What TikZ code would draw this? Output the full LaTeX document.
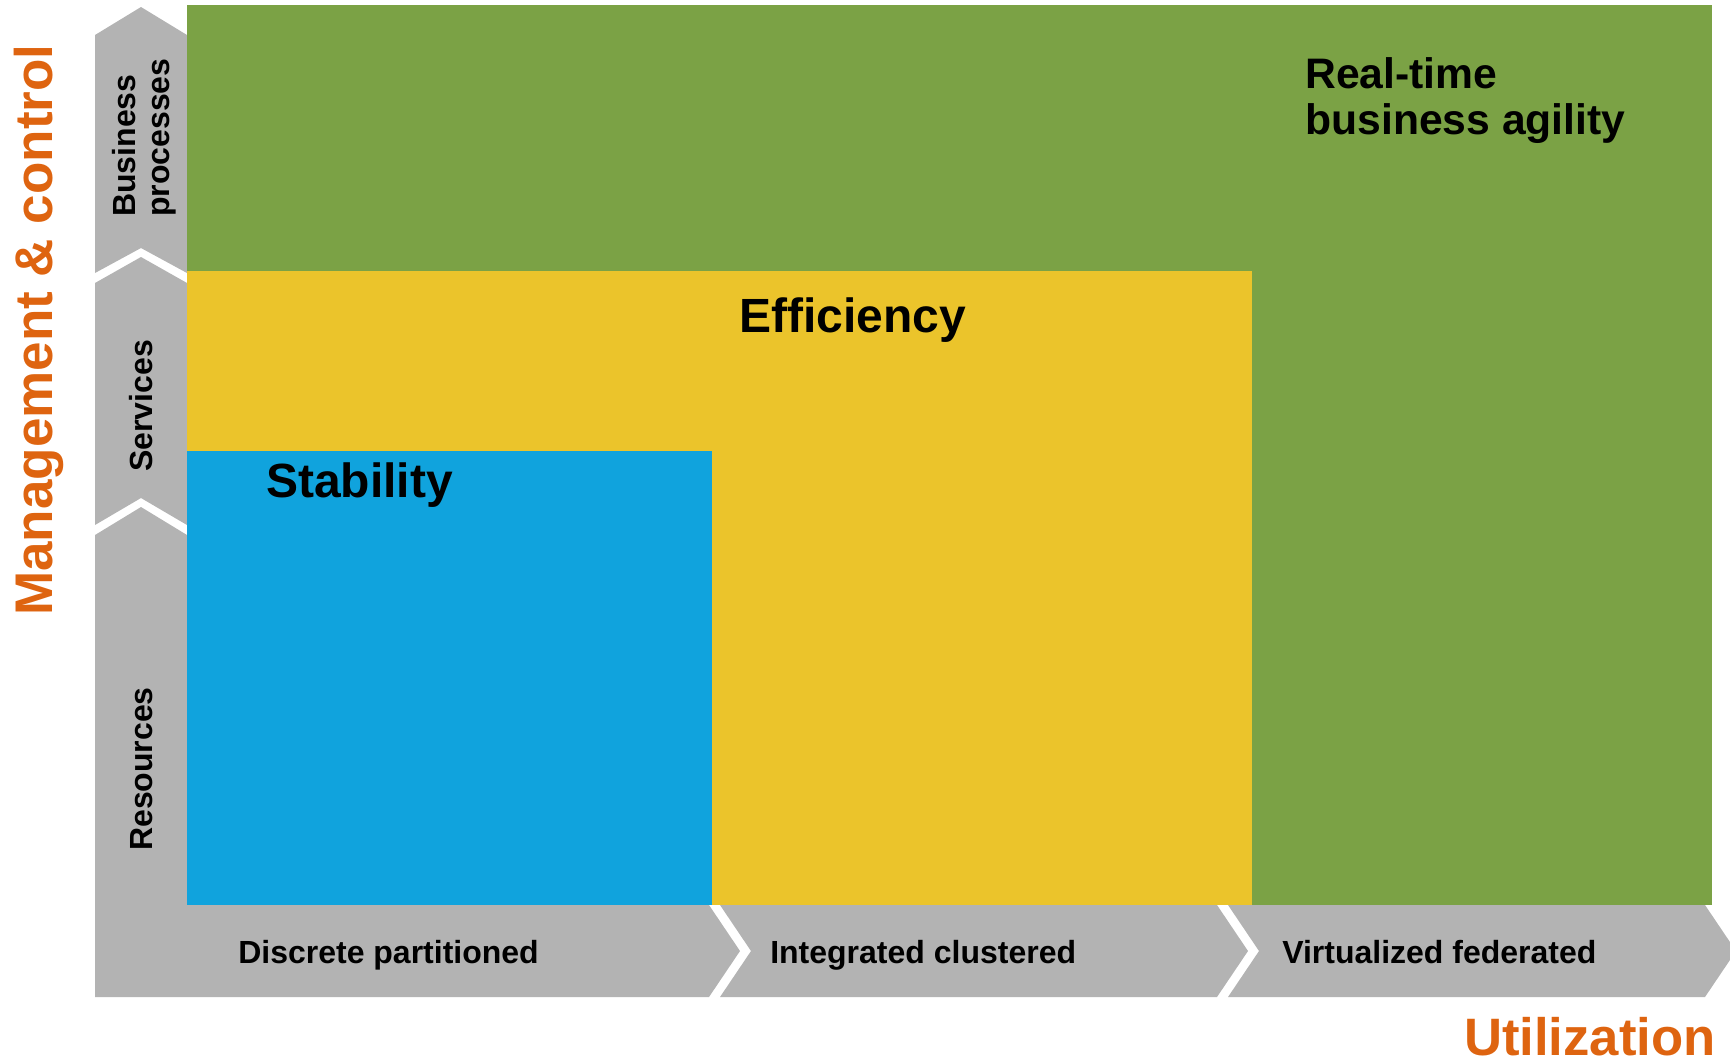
\documentclass[tikz,border=0pt]{standalone}
\usepackage{fontspec}
\setmainfont{Liberation Sans}
\definecolor{agilgreen}{RGB}{123,162,69}
\definecolor{effyellow}{RGB}{235,196,43}
\definecolor{stabblue}{RGB}{16,163,221}
\definecolor{lanegray}{RGB}{179,179,179}
\definecolor{axisorange}{RGB}{222,100,16}

\begin{document}
\begin{tikzpicture}[x=0.75pt,y=0.75pt,yscale=-1,xscale=1,
  lane/.style={fill=lanegray},
  lanetext/.style={inner sep=0pt,text=black,font=\bfseries\fontsize{24}{25.5}\selectfont},
  areatext/.style={inner sep=0pt,text=black,font=\bfseries\fontsize{36}{40}\selectfont},
  axistext/.style={inner sep=0pt,text=axisorange,font=\bfseries\fontsize{#1}{#1}\selectfont}]
\useasboundingbox (0,0) rectangle (1730,1061);

%Shape: Chevron [Business processes]
\fill[lane] (95,35) -- (141,7) -- (187,35) -- (187,273) -- (141,248) -- (95,273) -- cycle ;
%Shape: Chevron [Services]
\fill[lane] (95,283) -- (141,257) -- (187,283) -- (187,525) -- (141,498) -- (95,525) -- cycle ;
%Shape: Chevron [Resources]
\fill[lane] (95,535) -- (141,507) -- (187,535) -- (187,997) -- (95,997) -- cycle ;
%Shape: Chevron [Discrete partitioned]
\fill[lane] (187,905) -- (709,905) -- (740,951) -- (709,997) -- (187,997) -- cycle ;
%Shape: Chevron [Integrated clustered]
\fill[lane] (720,905) -- (1217,905) -- (1248,951) -- (1217,997) -- (720,997) -- (751,951) -- cycle ;
%Shape: Chevron [Virtualized federated]
\fill[lane] (1228,905) -- (1705,905) -- (1736,951) -- (1705,997) -- (1228,997) -- (1259,951) -- cycle ;

%Shape: Rectangle [agility]
\fill[agilgreen] (187,5) rectangle (1712,905) ;
%Shape: Rectangle [efficiency]
\fill[effyellow] (187,271) rectangle (1252,905) ;
%Shape: Rectangle [stability]
\fill[stabblue] (187,451) rectangle (712,905) ;

% Text Node
\node[areatext,anchor=base west,align=left,font=\bfseries\fontsize{32}{34.5}\selectfont] (agility) at (1305,134) {Real-time\\business agility};
% Text Node
\node[areatext,anchor=base west] (efficiency) at (739,332) {Efficiency};
% Text Node
\node[areatext,anchor=base west] (stability) at (266,497) {Stability};

% Text Node
\node[lanetext,anchor=base west,rotate=90,align=left] (business) at (169,217) {Business\\processes};
% Text Node
\node[lanetext,anchor=base,rotate=90] (services) at (152,406) {Services};
% Text Node
\node[lanetext,anchor=base,rotate=90] (resources) at (152,769) {Resources};

% Text Node
\node[lanetext,anchor=base west] (discrete) at (238,963) {Discrete partitioned};
% Text Node
\node[lanetext,anchor=base west] (integrated) at (770,963) {Integrated clustered};
% Text Node
\node[lanetext,anchor=base west] (virtualized) at (1282,963) {Virtualized federated};

% Text Node
\node[axistext=39.5,anchor=base east,text depth=0pt] (utilization) at (1716,1055) {Utilization};
% Text Node
\node[axistext=39.75,anchor=base,rotate=90] (mgmt) at (52,330) {Management \& control};

\end{tikzpicture}
\end{document}
